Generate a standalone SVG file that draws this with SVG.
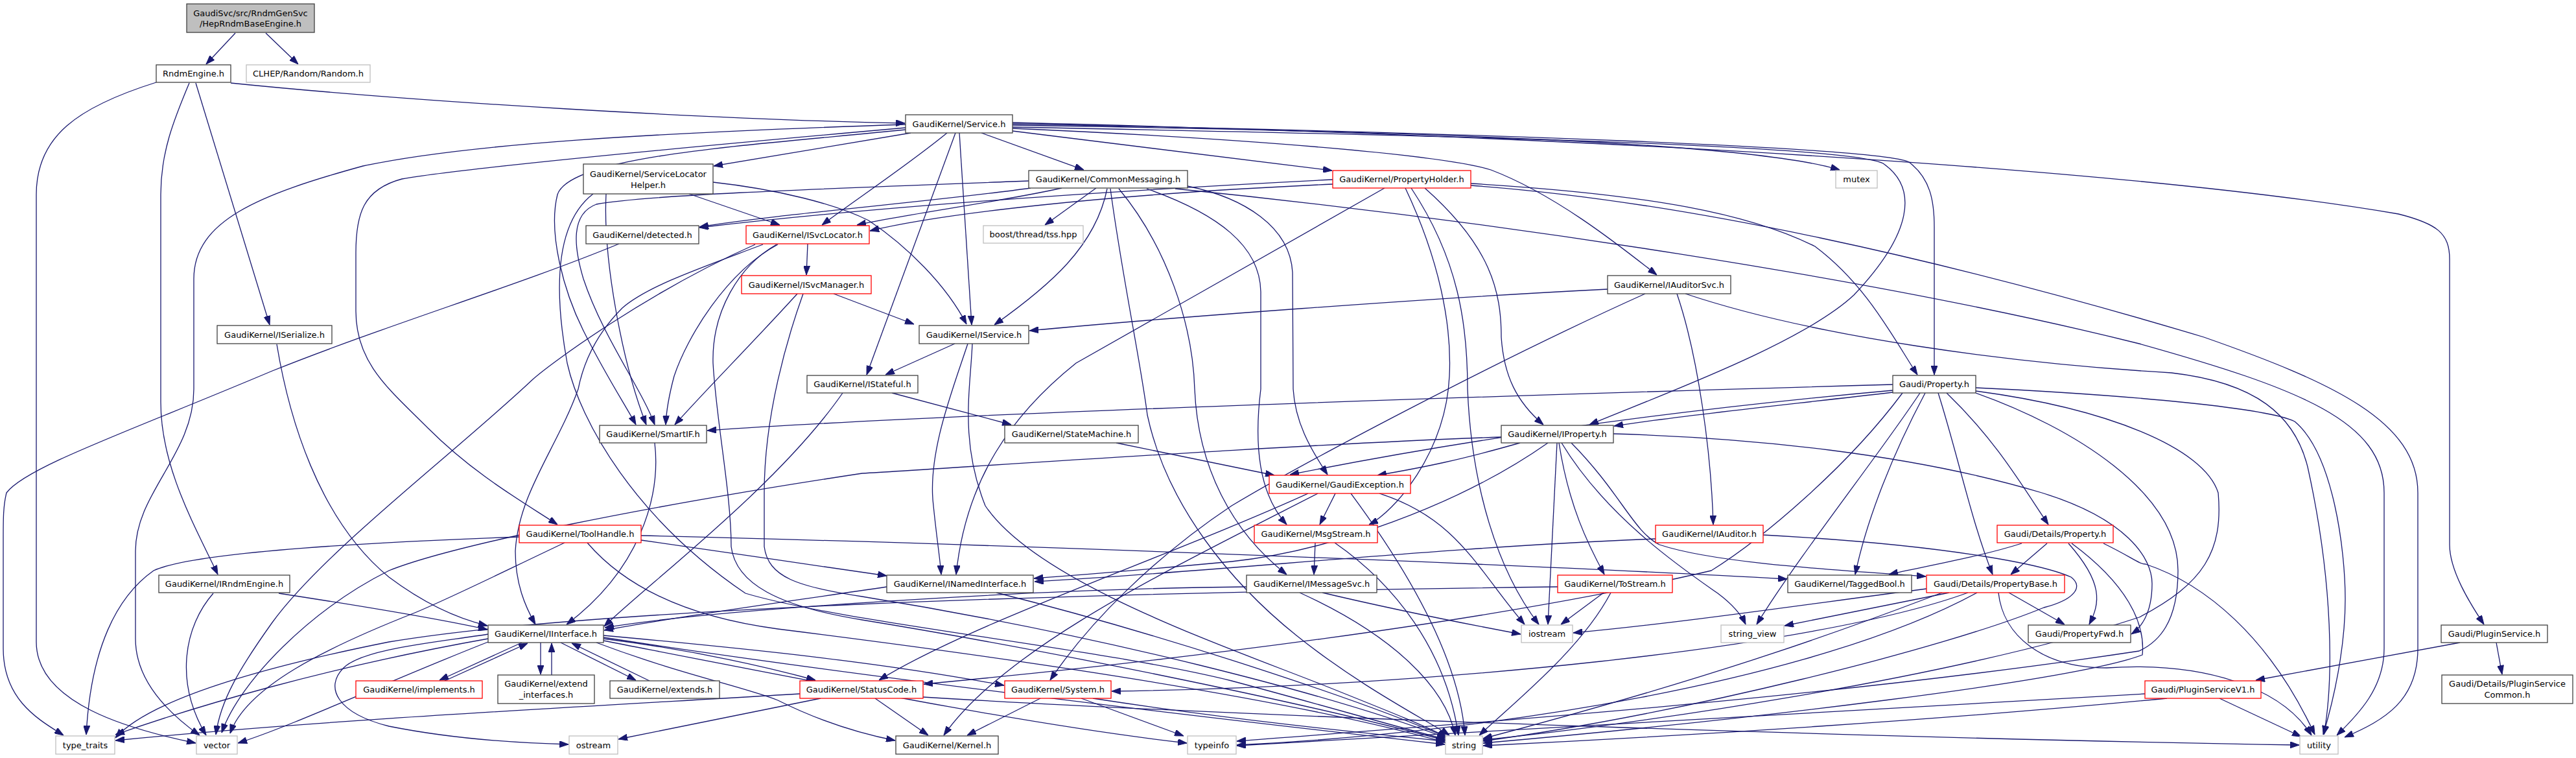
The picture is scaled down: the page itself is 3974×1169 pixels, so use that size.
<svg xmlns="http://www.w3.org/2000/svg" width="3974" height="1169" viewBox="0 0 3974 1169">
<style>
.n rect{fill:#ffffff;stroke:#404040;stroke-width:1.3}
.r rect{fill:#ffffff;stroke:#ff0000;stroke-width:1.3}
.g rect{fill:#ffffff;stroke:#bfbfbf;stroke-width:1.3}
.root rect{fill:#bfbfbf;stroke:#404040;stroke-width:1.3}
text{font-family:"DejaVu Sans","Liberation Sans",sans-serif;font-size:13px;fill:#000000;text-anchor:middle}
#edges path{fill:none;stroke:#191970;stroke-width:1.3;marker-end:url(#a)}
</style>
<defs>
<marker id="a" viewBox="0 0 14 10" refX="14" refY="5" markerWidth="14" markerHeight="10" markerUnits="userSpaceOnUse" orient="auto">
<path d="M0,0 L14,5 L0,10 z" fill="#191970" stroke="#191970"/>
</marker>
</defs>
<rect x="0" y="0" width="3974" height="1169" fill="#ffffff"/>
<g id="edges">
<path d="M363,51 L318,99"/>
<path d="M410,51 L460,99"/>
<path d="M356,128 C650,158 1100,184 1396,190"/>
<path d="M302,128 L416,501"/>
<path d="M292,128 C268,185 248,235 248,300 L248,620 C248,720 300,810 336,886"/>
<path d="M241,127 C120,165 56,210 56,300 L56,990 C56,1085 200,1125 302,1146"/>
<path d="M427,531 C445,640 490,800 600,890 C660,935 710,955 752,965"/>
<path d="M329,915 C285,965 268,1050 318,1134"/>
<path d="M430,915 C560,935 680,955 752,971"/>
<path d="M1405,205 L1101,256"/>
<path d="M1461,205 C1400,255 1310,315 1268,347"/>
<path d="M1514,205 L1672,262"/>
<path d="M1480,205 L1499,501"/>
<path d="M1474,205 L1337,578"/>
<path d="M1562,202 L2055,263"/>
<path d="M1562,198 C1950,215 2230,240 2300,262 C2400,300 2500,380 2556,424"/>
<path d="M1562,193 C2200,203 2700,220 2838,262"/>
<path d="M1562,196 C2300,210 2850,225 2905,252 C2960,290 2950,360 2860,455 C2780,530 2560,610 2452,655"/>
<path d="M1562,191 C2300,205 2900,228 2945,250 C2978,275 2984,310 2984,350 L2984,578"/>
<path d="M1562,189 C2500,212 3300,262 3700,330 C3760,345 3779,360 3779,400 L3779,840 C3779,880 3810,930 3832,963"/>
<path d="M1397,192 C1000,205 720,222 560,256 C400,300 299,340 299,430 L299,600 C299,700 209,760 209,850 L209,985 C209,1050 260,1100 308,1134"/>
<path d="M1397,197 C1000,232 700,262 620,276 C560,292 549,330 549,390 L549,480 C549,560 600,600 660,660 C730,730 800,770 860,809"/>
<path d="M1397,200 C1150,225 880,240 860,300 C845,360 870,450 900,510 C935,580 965,625 981,655"/>
<path d="M1063,299 L1203,347"/>
<path d="M1100,281 C1200,292 1290,315 1340,340 C1400,380 1460,440 1491,500"/>
<path d="M935,299 C930,400 960,560 997,655"/>
<path d="M915,299 C855,345 855,450 875,560 C895,650 980,800 1150,915 C1300,960 1700,1000 1900,1050 C2050,1090 2150,1120 2230,1140"/>
<path d="M955,376 C800,440 600,500 420,572 C200,665 40,720 10,760 C5,780 5,800 5,830 L5,1000 C5,1080 60,1110 98,1134"/>
<path d="M1246,376 L1244,424"/>
<path d="M1200,377 C1120,420 1060,520 1040,580 C1032,610 1028,630 1027,655"/>
<path d="M1177,377 C1090,410 1000,440 960,475 C920,515 900,560 892,600 C860,690 800,760 795,850 C795,900 810,935 826,963"/>
<path d="M1165,377 C1000,450 850,560 822,585 C700,700 500,850 420,960 C370,1030 340,1080 333,1133"/>
<path d="M1198,377 C1140,410 1098,480 1100,560 C1105,650 1128,760 1128,843 C1135,900 1200,935 1330,956 C1600,1000 2000,1080 2230,1142"/>
<path d="M1286,453 L1410,500"/>
<path d="M1230,453 C1160,530 1090,600 1041,655"/>
<path d="M1239,453 C1215,520 1179,640 1179,760 L1179,843 C1185,890 1230,905 1330,920 C1700,980 2050,1070 2231,1138"/>
<path d="M1590,290 C1450,310 1200,330 1079,350"/>
<path d="M1638,290 C1550,310 1400,330 1322,347"/>
<path d="M1691,290 L1612,347"/>
<path d="M1708,291 C1690,380 1620,440 1534,501"/>
<path d="M1713,291 C1730,420 1760,560 1770,640 C1800,780 1900,900 2000,980 C2100,1060 2200,1110 2236,1134"/>
<path d="M1726,291 C1800,380 1840,500 1843,600 C1848,720 1900,820 1985,886"/>
<path d="M1769,291 C1880,330 1944,380 1945,450 L1945,600 C1935,680 1940,760 1985,809"/>
<path d="M1832,287 C1920,305 1990,350 1994,420 L1995,600 C1998,650 2020,690 2048,732"/>
<path d="M1813,291 C2300,340 2900,430 3300,530 C3550,600 3678,650 3678,760 L3678,1000 C3678,1060 3640,1100 3605,1134"/>
<path d="M1587,279 C1300,290 1000,300 920,315 C880,330 885,380 900,430 C930,520 990,600 1010,655"/>
<path d="M1473,530 L1366,578"/>
<path d="M1493,530 C1470,600 1430,700 1440,780 C1445,830 1450,860 1452,886"/>
<path d="M1500,530 C1497,600 1480,680 1520,780 C1600,900 1900,1000 2050,1060 C2150,1100 2200,1120 2232,1137"/>
<path d="M1376,606 L1560,655"/>
<path d="M1300,606 C1200,750 1000,900 932,966"/>
<path d="M1722,683 L1966,733"/>
<path d="M1010,683 C1020,768 985,880 874,963"/>
<path d="M801,828 C600,835 300,850 237,880 C180,920 140,1000 133,1133"/>
<path d="M871,837 C780,880 700,920 640,945 C500,1000 380,1060 355,1131"/>
<path d="M989,833 C1100,850 1250,870 1368,888"/>
<path d="M989,826 C1500,838 2300,868 2757,893"/>
<path d="M906,837 C960,900 1050,950 1200,970 C1600,1020 2000,1080 2230,1145"/>
<path d="M805,991 L678,1049"/>
<path d="M686,1050 L814,992"/>
<path d="M834,991 L834,1040"/>
<path d="M851,1041 L851,992"/>
<path d="M865,991 L981,1049"/>
<path d="M1002,1050 L882,992"/>
<path d="M931,985 C1050,1000 1150,1020 1258,1049"/>
<path d="M931,980 C1150,1000 1350,1020 1549,1057"/>
<path d="M920,991 C1050,1040 1150,1060 1200,1080 C1260,1110 1320,1130 1381,1142"/>
<path d="M753,978 C680,990 560,1000 530,1030 C500,1060 520,1100 600,1120 C700,1140 800,1146 877,1148"/>
<path d="M753,985 C500,1030 300,1090 178,1133"/>
<path d="M753,990 C600,1050 450,1120 367,1146"/>
<path d="M931,988 C1300,1060 1600,1120 1831,1146"/>
<path d="M931,983 C1300,1040 1800,1100 2229,1148"/>
<path d="M1266,1077 C1150,1100 1050,1120 954,1140"/>
<path d="M1234,1070 C900,1090 500,1110 178,1142"/>
<path d="M1350,1077 L1432,1134"/>
<path d="M1424,1075 C2000,1110 3000,1140 3547,1149"/>
<path d="M1605,1077 L1492,1134"/>
<path d="M1668,1077 L1826,1135"/>
<path d="M1686,1077 C1900,1110 2100,1130 2229,1143"/>
<path d="M1368,905 C1200,930 1050,950 932,972"/>
<path d="M1537,914 C1800,980 2100,1080 2232,1137"/>
<path d="M2018,761 C1800,860 1500,960 1356,1049"/>
<path d="M2033,761 C1800,880 1550,1000 1456,1134"/>
<path d="M2060,761 L2036,809"/>
<path d="M2084,761 C2150,850 2250,1000 2260,1134"/>
<path d="M2128,761 C2250,800 2280,880 2352,963"/>
<path d="M2029,837 L2027,886"/>
<path d="M2059,837 C2150,900 2230,1000 2250,1134"/>
<path d="M1923,905 C1600,908 1100,940 933,968"/>
<path d="M2005,914 C2150,980 2230,1060 2245,1134"/>
<path d="M2040,914 C2150,940 2250,960 2346,978"/>
<path d="M2056,277 C1600,300 1300,325 1079,351"/>
<path d="M2056,284 C1700,300 1450,330 1342,356"/>
<path d="M2269,283 C2550,300 2700,330 2800,380 C2880,440 2920,520 2958,578"/>
<path d="M2198,290 C2300,380 2316,450 2316,520 C2320,580 2340,620 2381,655"/>
<path d="M2168,290 C2220,400 2240,500 2236,580 C2230,700 2150,790 2112,809"/>
<path d="M2177,290 C2250,400 2264,500 2264,600 C2270,750 2310,880 2374,963"/>
<path d="M2136,290 C2050,340 1800,480 1660,560 C1560,640 1490,740 1475,886"/>
<path d="M2269,286 C2600,310 3000,400 3400,520 C3600,590 3730,650 3730,760 L3730,1000 C3730,1080 3680,1110 3617,1137"/>
<path d="M2480,446 C2200,460 1800,490 1588,510"/>
<path d="M2538,453 C2300,560 2000,720 1900,780 C1780,860 1680,960 1620,1049"/>
<path d="M2587,453 C2620,550 2640,700 2643,809"/>
<path d="M2600,453 C2800,520 3100,560 3350,575 C3480,590 3540,640 3560,720 C3600,900 3600,1050 3585,1133"/>
<path d="M2345,683 C2250,710 2200,720 2125,733"/>
<path d="M2402,683 L2388,963"/>
<path d="M2405,683 C2420,780 2450,840 2475,886"/>
<path d="M2409,683 C2480,800 2600,880 2650,915 C2670,930 2685,945 2693,963"/>
<path d="M2424,683 C2500,760 2520,820 2560,840 C2650,870 2850,880 2971,889"/>
<path d="M2316,674 C2000,685 1500,720 1330,730 C1000,780 700,840 600,880 C480,940 370,1050 342,1130"/>
<path d="M2388,683 C2250,780 2050,850 1900,866 C1750,880 1650,888 1595,892"/>
<path d="M2489,669 C2700,675 2950,700 3150,760 C3280,800 3320,860 3320,900 C3320,950 3300,970 3288,978"/>
<path d="M2474,914 L2408,963"/>
<path d="M2485,914 C2440,1000 2340,1080 2282,1134"/>
<path d="M2403,905 C1600,915 900,940 600,990 C400,1030 230,1080 178,1138"/>
<path d="M2554,831 C2200,845 1900,880 1596,897"/>
<path d="M2720,825 C3000,840 3150,870 3195,890 C3215,905 3200,925 3153,937 C3000,1000 2600,1100 2288,1143"/>
<path d="M2920,593 C2500,605 1500,635 1091,664"/>
<path d="M2920,602 C2500,640 2200,690 1990,732"/>
<path d="M2920,605 C2750,625 2600,640 2490,657"/>
<path d="M2970,606 C2920,700 2880,800 2862,886"/>
<path d="M2962,606 C2900,700 2780,850 2710,963"/>
<path d="M2990,606 C3020,700 3040,800 3074,886"/>
<path d="M3003,606 C3080,680 3120,750 3160,809"/>
<path d="M3048,598 C3300,610 3500,630 3540,650 C3600,700 3618,850 3618,924 C3618,1000 3600,1080 3584,1133"/>
<path d="M3048,603 C3250,630 3400,690 3422,760 C3430,850 3400,900 3300,952 C3000,1050 2500,1120 2288,1141"/>
<path d="M3048,606 C3200,660 3360,760 3360,880 C3360,960 3330,990 3300,1004 C2800,1080 2200,1120 1908,1143"/>
<path d="M2935,606 C2850,720 2720,830 2640,880 C2300,960 1800,1020 1425,1055"/>
<path d="M3119,838 C3050,860 2960,875 2914,886"/>
<path d="M3158,838 L3102,886"/>
<path d="M3191,838 C3245,899 3240,930 3223,963"/>
<path d="M3245,838 C3290,860 3300,870 3310,870 C3400,900 3500,980 3571,1133"/>
<path d="M3196,838 C3280,900 3310,960 3305,1010 C3200,1050 2700,1110 2288,1146"/>
<path d="M3007,914 L2753,965"/>
<path d="M3099,914 L3185,963"/>
<path d="M2972,908 C2800,930 2600,960 2427,976"/>
<path d="M2996,914 C2900,950 2700,1030 2288,1139"/>
<path d="M3036,914 C2800,1000 2200,1060 1715,1066"/>
<path d="M3050,914 C2800,1050 2300,1130 1908,1149"/>
<path d="M3083,914 C3090,980 3150,1030 3250,1030 C3400,1020 3520,1060 3566,1134"/>
<path d="M3795,991 L3480,1049"/>
<path d="M3851,991 L3860,1040"/>
<path d="M3424,1077 L3550,1136"/>
<path d="M3343,1077 C3000,1110 2600,1135 2288,1150"/>
<path d="M3309,1070 C2800,1100 2300,1130 1908,1150"/>
</g>
<g id="n_root" class="root"><rect x="288" y="6" width="197" height="44"/><text x="386.5" y="24.5">GaudiSvc/src/RndmGenSvc</text><text x="386.5" y="41.3">/HepRndmBaseEngine.h</text></g>
<g id="n_RndmEngine" class="n"><rect x="241" y="100" width="115" height="27"/><text x="298.5" y="118">RndmEngine.h</text></g>
<g id="n_CLHEP" class="g"><rect x="380" y="100" width="191" height="27"/><text x="475.5" y="118">CLHEP/Random/Random.h</text></g>
<g id="n_ISerialize" class="n"><rect x="335" y="502" width="177" height="28"/><text x="423.5" y="520.5">GaudiKernel/ISerialize.h</text></g>
<g id="n_IRndmEngine" class="n"><rect x="245" y="887" width="202" height="27"/><text x="346" y="905">GaudiKernel/IRndmEngine.h</text></g>
<g id="n_type_traits" class="g"><rect x="86" y="1135" width="91" height="28"/><text x="131.5" y="1153.5">type_traits</text></g>
<g id="n_vector" class="g"><rect x="303" y="1135" width="63" height="28"/><text x="334.5" y="1153.5">vector</text></g>
<g id="n_implements" class="r"><rect x="549" y="1050" width="195" height="27"/><text x="646.5" y="1068">GaudiKernel/implements.h</text></g>
<g id="n_Service" class="n"><rect x="1397" y="177" width="165" height="28"/><text x="1479.5" y="195.5">GaudiKernel/Service.h</text></g>
<g id="n_ServiceLocatorHelper" class="n"><rect x="900" y="253" width="200" height="46"/><text x="1000" y="272.5">GaudiKernel/ServiceLocator</text><text x="1000" y="289.6">Helper.h</text></g>
<g id="n_detected" class="n"><rect x="904" y="348" width="174" height="28"/><text x="991" y="366.5">GaudiKernel/detected.h</text></g>
<g id="n_ISvcLocator" class="r"><rect x="1151" y="348" width="190" height="28"/><text x="1246" y="366.5">GaudiKernel/ISvcLocator.h</text></g>
<g id="n_ISvcManager" class="r"><rect x="1144" y="425" width="200" height="28"/><text x="1244" y="443.5">GaudiKernel/ISvcManager.h</text></g>
<g id="n_CommonMessaging" class="n"><rect x="1587" y="263" width="245" height="27"/><text x="1709.5" y="281">GaudiKernel/CommonMessaging.h</text></g>
<g id="n_tss" class="g"><rect x="1517" y="348" width="154" height="27"/><text x="1594" y="366">boost/thread/tss.hpp</text></g>
<g id="n_IService" class="n"><rect x="1418" y="502" width="169" height="28"/><text x="1502.5" y="520.5">GaudiKernel/IService.h</text></g>
<g id="n_IStateful" class="n"><rect x="1245" y="579" width="171" height="27"/><text x="1330.5" y="597">GaudiKernel/IStateful.h</text></g>
<g id="n_SmartIF" class="n"><rect x="925" y="656" width="165" height="27"/><text x="1007.5" y="674">GaudiKernel/SmartIF.h</text></g>
<g id="n_ToolHandle" class="r"><rect x="801" y="810" width="188" height="27"/><text x="895" y="828">GaudiKernel/ToolHandle.h</text></g>
<g id="n_IInterface" class="n"><rect x="753" y="964" width="178" height="27"/><text x="842" y="982">GaudiKernel/IInterface.h</text></g>
<g id="n_extend_interfaces" class="n"><rect x="768" y="1041" width="149" height="44"/><text x="842.5" y="1059">GaudiKernel/extend</text><text x="842.5" y="1076">_interfaces.h</text></g>
<g id="n_extends" class="n"><rect x="941" y="1050" width="169" height="27"/><text x="1025.5" y="1068">GaudiKernel/extends.h</text></g>
<g id="n_StatusCode" class="r"><rect x="1234" y="1050" width="190" height="27"/><text x="1329" y="1068">GaudiKernel/StatusCode.h</text></g>
<g id="n_ostream" class="g"><rect x="878" y="1135" width="75" height="28"/><text x="915.5" y="1153.5">ostream</text></g>
<g id="n_StateMachine" class="n"><rect x="1550" y="656" width="206" height="27"/><text x="1653" y="674">GaudiKernel/StateMachine.h</text></g>
<g id="n_INamedInterface" class="n"><rect x="1368" y="887" width="226" height="27"/><text x="1481" y="905">GaudiKernel/INamedInterface.h</text></g>
<g id="n_System" class="r"><rect x="1550" y="1050" width="164" height="27"/><text x="1632" y="1068">GaudiKernel/System.h</text></g>
<g id="n_Kernel" class="n"><rect x="1382" y="1135" width="158" height="28"/><text x="1461" y="1153.5">GaudiKernel/Kernel.h</text></g>
<g id="n_typeinfo" class="g"><rect x="1832" y="1135" width="75" height="28"/><text x="1869.5" y="1153.5">typeinfo</text></g>
<g id="n_GaudiException" class="r"><rect x="1958" y="733" width="218" height="28"/><text x="2067" y="751.5">GaudiKernel/GaudiException.h</text></g>
<g id="n_MsgStream" class="r"><rect x="1935" y="810" width="190" height="27"/><text x="2030" y="828">GaudiKernel/MsgStream.h</text></g>
<g id="n_IMessageSvc" class="n"><rect x="1923" y="887" width="201" height="27"/><text x="2023.5" y="905">GaudiKernel/IMessageSvc.h</text></g>
<g id="n_PropertyHolder" class="r"><rect x="2056" y="263" width="213" height="27"/><text x="2162.5" y="281">GaudiKernel/PropertyHolder.h</text></g>
<g id="n_IAuditorSvc" class="n"><rect x="2480" y="425" width="190" height="28"/><text x="2575" y="443.5">GaudiKernel/IAuditorSvc.h</text></g>
<g id="n_IProperty" class="n"><rect x="2316" y="656" width="173" height="27"/><text x="2402.5" y="674">GaudiKernel/IProperty.h</text></g>
<g id="n_ToStream" class="r"><rect x="2403" y="887" width="177" height="27"/><text x="2491.5" y="905">GaudiKernel/ToStream.h</text></g>
<g id="n_iostream" class="g"><rect x="2347" y="964" width="79" height="27"/><text x="2386.5" y="982">iostream</text></g>
<g id="n_string" class="g"><rect x="2230" y="1135" width="57" height="28"/><text x="2258.5" y="1153.5">string</text></g>
<g id="n_IAuditor" class="r"><rect x="2554" y="810" width="166" height="27"/><text x="2637" y="828">GaudiKernel/IAuditor.h</text></g>
<g id="n_mutex" class="g"><rect x="2832" y="263" width="64" height="27"/><text x="2864" y="281">mutex</text></g>
<g id="n_GaudiProperty" class="n"><rect x="2920" y="579" width="128" height="27"/><text x="2984" y="597">Gaudi/Property.h</text></g>
<g id="n_TaggedBool" class="n"><rect x="2758" y="887" width="191" height="27"/><text x="2853.5" y="905">GaudiKernel/TaggedBool.h</text></g>
<g id="n_PropertyBase" class="r"><rect x="2972" y="887" width="213" height="27"/><text x="3078.5" y="905">Gaudi/Details/PropertyBase.h</text></g>
<g id="n_string_view" class="g"><rect x="2655" y="964" width="97" height="27"/><text x="2703.5" y="982">string_view</text></g>
<g id="n_DetailsProperty" class="r"><rect x="3081" y="810" width="179" height="27"/><text x="3170.5" y="828">Gaudi/Details/Property.h</text></g>
<g id="n_PropertyFwd" class="n"><rect x="3129" y="964" width="158" height="27"/><text x="3208" y="982">Gaudi/PropertyFwd.h</text></g>
<g id="n_PluginService" class="n"><rect x="3766" y="964" width="164" height="27"/><text x="3848" y="982">Gaudi/PluginService.h</text></g>
<g id="n_PluginServiceCommon" class="n"><rect x="3767" y="1041" width="202" height="44"/><text x="3868" y="1059">Gaudi/Details/PluginService</text><text x="3868" y="1076">Common.h</text></g>
<g id="n_PluginServiceV1" class="r"><rect x="3309" y="1050" width="179" height="27"/><text x="3398.5" y="1068">Gaudi/PluginServiceV1.h</text></g>
<g id="n_utility" class="g"><rect x="3548" y="1135" width="59" height="28"/><text x="3577.5" y="1153.5">utility</text></g>
</svg>
